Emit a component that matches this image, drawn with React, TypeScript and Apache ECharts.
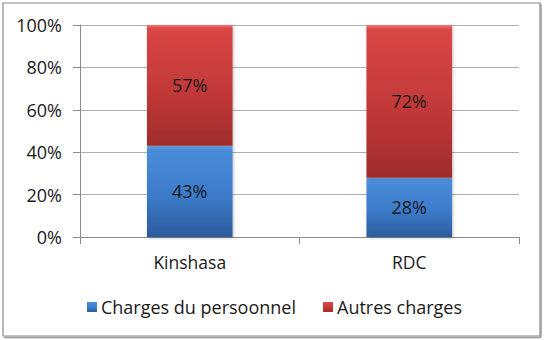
import React, { useEffect, useRef } from "react";
import * as echarts from "echarts";

const categories = ["Kinshasa", "RDC"];
const personnel = [43, 28];
const autres = [57, 72];
const seriesNames = ["Charges du persoonnel", "Autres charges"];

const FONT = "'Open Sans', 'Noto Sans', sans-serif";

export default function App() {
  const ref = useRef<HTMLDivElement>(null);
  useEffect(() => {
    if (!ref.current) return;
    const chart = echarts.init(ref.current, undefined, { renderer: "svg" });
    const blue = new echarts.graphic.LinearGradient(0, 0, 0, 1, [
      { offset: 0, color: "#7ab6f2" },
      { offset: 0.04, color: "#4b8ddb" },
      { offset: 0.55, color: "#3c7bca" },
      { offset: 1, color: "#2b5c9c" },
    ]);
    const red = new echarts.graphic.LinearGradient(0, 0, 0, 1, [
      { offset: 0, color: "#f07575" },
      { offset: 0.03, color: "#d94646" },
      { offset: 0.55, color: "#c23838" },
      { offset: 1, color: "#a02c2c" },
    ]);
    const labelStyle = {
      show: true,
      position: "inside" as const,
      formatter: "{c}%",
      color: "#1a1a1a",
      fontFamily: FONT,
      fontSize: 18,
    };
    chart.setOption({
      animation: false,
      backgroundColor: "#ffffff",
      graphic: [
        {
          type: "rect",
          shape: { x: 3, y: 3, width: 537, height: 333 },
          style: { fill: "none", stroke: "#8a8a8a", lineWidth: 1.2 },
          silent: true,
        },
        {
          type: "line",
          shape: { x1: 541, y1: 4, x2: 541, y2: 337 },
          style: { stroke: "#9a9a9a", lineWidth: 1.5 },
          silent: true,
        },
        {
          type: "line",
          shape: { x1: 4, y1: 337.5, x2: 541, y2: 337.5 },
          style: { stroke: "#9a9a9a", lineWidth: 1.5 },
          silent: true,
        },
      ],
      grid: { left: 80, right: 30, top: 25, bottom: 103, containLabel: false },
      legend: {
        data: seriesNames,
        left: "center",
        top: 293,
        itemWidth: 10,
        itemHeight: 10,
        itemGap: 27,
        icon: "rect",
        textStyle: { fontFamily: FONT, fontSize: 18, color: "#1a1a1a", padding: [0, 0, 0, -1] },
      },
      xAxis: {
        type: "category",
        data: categories,
        axisLine: { show: true, lineStyle: { color: "#8c8c8c", width: 1 } },
        axisTick: { show: true, length: 7, lineStyle: { color: "#8c8c8c" } },
        axisLabel: { margin: 16, fontFamily: FONT, fontSize: 17.5, color: "#1a1a1a" },
      },
      yAxis: {
        type: "value",
        min: 0,
        max: 100,
        interval: 20,
        axisLine: { show: true, lineStyle: { color: "#8c8c8c", width: 1 } },
        axisTick: { show: true, length: 7, lineStyle: { color: "#8c8c8c" } },
        splitLine: { show: true, lineStyle: { color: "#b0b0b0", width: 1 } },
        axisLabel: { margin: 18, formatter: "{value}%", fontFamily: FONT, fontSize: 18, color: "#1a1a1a" },
      },
      series: [
        {
          name: seriesNames[0],
          type: "bar",
          stack: "total",
          data: personnel,
          barCategoryGap: "61%",
          itemStyle: { color: blue, shadowColor: "rgba(0,0,0,0.25)", shadowBlur: 3, shadowOffsetX: 1, shadowOffsetY: 1 },
          label: labelStyle,
        },
        {
          name: seriesNames[1],
          type: "bar",
          stack: "total",
          data: autres,
          barCategoryGap: "61%",
          itemStyle: { color: red, shadowColor: "rgba(0,0,0,0.25)", shadowBlur: 3, shadowOffsetX: 1, shadowOffsetY: 1 },
          label: labelStyle,
        },
      ],
    });
    return () => chart.dispose();
  }, []);
  return (
    <div
      ref={ref}
      style={{ position: "fixed", left: 0, top: 0, width: 549, height: 340 }}
    />
  );
}
